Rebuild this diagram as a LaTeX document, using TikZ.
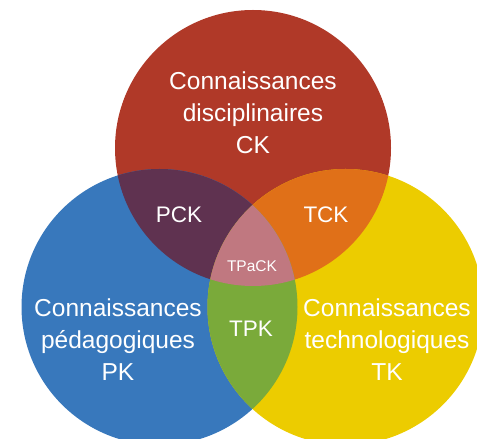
\documentclass[tikz,border=0pt]{standalone}
\usepackage{fontspec}
\setmainfont{Liberation Sans}
\usetikzlibrary{positioning}
\definecolor{ckRed}{RGB}{176,57,40}
\definecolor{pkBlue}{RGB}{56,120,188}
\definecolor{tkGold}{RGB}{236,204,0}
\definecolor{pckPlum}{RGB}{95,50,80}
\definecolor{tckOrange}{RGB}{224,112,24}
\definecolor{tpkGreen}{RGB}{122,170,58}
\definecolor{tpackPink}{RGB}{192,120,128}
\newcommand{\vennR}{138pt}
\tikzset{
    bigset/.style={circle, fill=#1, minimum size=276pt, inner sep=0pt},
    setname/.style={text=white, align=center, font=\fontsize{24.5}{32}\selectfont},
    pairname/.style={text=white, font=\fontsize{22.5}{26}\selectfont},
    corename/.style={text=white, font=\fontsize{15.5}{18}\selectfont}
}
\begin{document}
\begin{tikzpicture}[x=1pt, y=1pt]
    \useasboundingbox (0,0) rectangle (477,439);
    \clip (0,0) rectangle (477,439);
    % Three sets
    \node[bigset=ckRed] (ck) at (253,291) {};
    \node[bigset=pkBlue] (pk) at (159.5,132) {};
    \node[bigset=tkGold] (tk) at (345.5,132) {};

    % Pairwise overlaps
    \begin{scope}
        \clip (ck.center) circle (\vennR);
        \fill[pckPlum] (pk.center) circle (\vennR);
        \fill[tckOrange] (tk.center) circle (\vennR);
    \end{scope}
    \begin{scope}
        \clip (pk.center) circle (\vennR);
        \fill[tpkGreen] (tk.center) circle (\vennR);
    \end{scope}
    % Centre
    \begin{scope}
        \clip (ck.center) circle (\vennR);
        \clip (pk.center) circle (\vennR);
        \fill[tpackPink] (tk.center) circle (\vennR);
    \end{scope}

    % Labels
    \node[setname] (cktext) at (253,326) {Connaissances\\disciplinaires\\CK};
    \node[setname] (pktext) at (118,99) {Connaissances\\pédagogiques\\PK};
    \node[setname] (tktext) at (387,99) {Connaissances\\technologiques\\TK};
    \node[pairname] (pcktext) at (179,224) {PCK};
    \node[pairname] (tcktext) at (326,224) {TCK};
    \node[pairname] (tpktext) at (251,110) {TPK};
    \node[corename] (tpacktext) at (252,173) {TPaCK};
\end{tikzpicture}
\end{document}
